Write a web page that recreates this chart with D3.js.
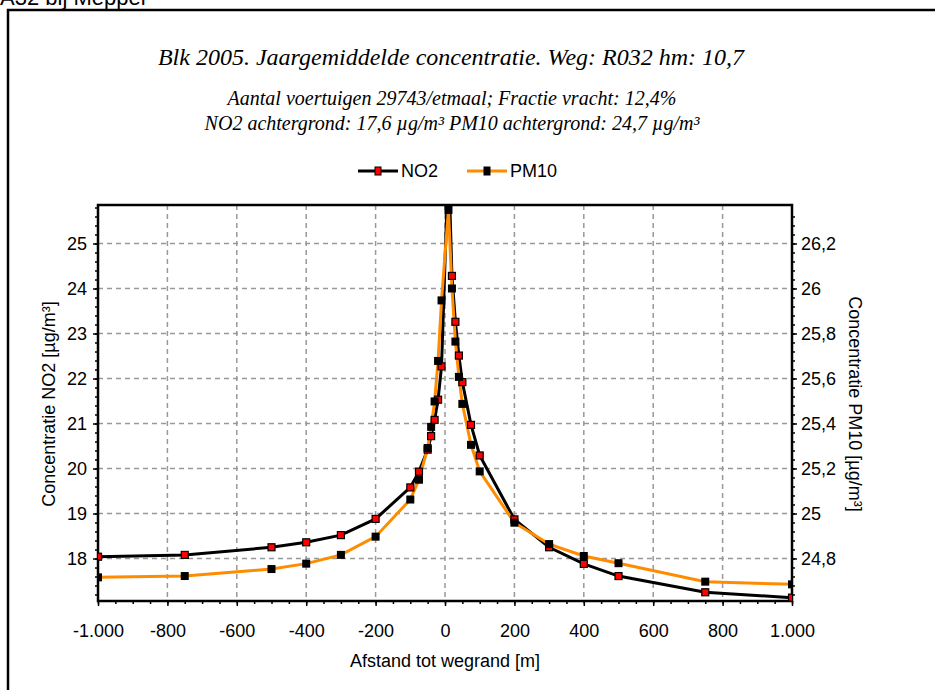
<!DOCTYPE html>
<html>
<head>
<meta charset="utf-8">
<script src="https://cdn.jsdelivr.net/npm/d3@7"></script>
<style>
  body { margin: 0; background: #fff; }
  svg { display: block; }
  .tick text { font-family: "Liberation Sans", Arial, sans-serif; font-size: 18px; fill: #000; }
</style>
</head>
<body>
<svg id="chart"></svg>
<script>
// afstand tot wegrand [m]
const distances = [-1000, -750, -500, -400, -300, -200, -100, -75, -50, -40, -30, -20, -10,
                   10, 20, 30, 40, 50, 75, 100, 200, 300, 400, 500, 750, 1000];
// concentratie NO2 [µg/m³]
const no2 = [18.04, 18.08, 18.25, 18.36, 18.52, 18.88, 19.58, 19.93, 20.42, 20.72, 21.08, 21.53, 22.27,
             26.9, 24.28, 23.26, 22.51, 21.92, 20.97, 20.29, 18.87, 18.25, 17.88, 17.61, 17.25, 17.13];
// concentratie PM10 [µg/m³]
const pm10 = [24.716, 24.722, 24.753, 24.777, 24.816, 24.897, 25.062, 25.150, 25.291, 25.385, 25.498, 25.678, 25.947,
              26.349, 26.0, 25.764, 25.607, 25.487, 25.305, 25.187, 24.959, 24.864, 24.811, 24.779, 24.697, 24.685];

const xTicks = [-1000, -800, -600, -400, -200, 0, 200, 400, 600, 800, 1000];
const no2Ticks = [18, 19, 20, 21, 22, 23, 24, 25];
const pm10Ticks = [24.8, 25, 25.2, 25.4, 25.6, 25.8, 26, 26.2];

const seriesNames = ["NO2", "PM10"];
const titleText = "Blk 2005. Jaargemiddelde concentratie. Weg: R032 hm: 10,7";
const subText = ["Aantal voertuigen 29743/etmaal; Fractie vracht: 12,4%",
                 "NO2 achtergrond: 17,6 µg/m³ PM10 achtergrond: 24,7 µg/m³"];

const width = 935, height = 690;
const mLeft = 98, mRight = 792, mTop = 205, mBottom = 601;

const nl = d3.formatLocale({decimal: ",", thousands: ".", grouping: [3], currency: ["€", ""], minus: "-"});

const svg = d3.select("#chart")
    .attr("width", width)
    .attr("height", height);

// page heading, cut off at the top as in the original screenshot
svg.append("text")
    .attr("x", 0)
    .attr("y", 5)
    .style("font-family", "Liberation Sans, Arial, sans-serif")
    .style("font-size", "22px")
    .text("A32 bij Meppel");

// outer frame
svg.append("rect")
    .attr("x", 8).attr("y", 10)
    .attr("width", 940).attr("height", 700)
    .attr("fill", "none")
    .attr("stroke", "#000")
    .attr("stroke-width", 2.5);

const x = d3.scaleLinear().domain([-1000, 1000]).range([mLeft, mRight]);
const yNO2 = d3.scaleLinear().domain([17.056, 25.856]).range([mBottom, mTop]);
const yPM = d3.scaleLinear().domain([24.611, 26.371]).range([mBottom, mTop]);

// titles
const serif = "Liberation Serif, Times New Roman, serif";
svg.append("text")
    .attr("x", 451).attr("y", 65)
    .attr("text-anchor", "middle")
    .style("font-family", serif)
    .style("font-style", "italic")
    .style("font-size", "24px")
    .text(titleText);

svg.selectAll(".sub")
    .data(subText)
    .join("text")
    .attr("class", "sub")
    .attr("x", 452)
    .attr("y", (d, i) => 105 + i * 25)
    .attr("text-anchor", "middle")
    .style("font-family", serif)
    .style("font-style", "italic")
    .style("font-size", "20px")
    .text(d => d);

// grid
const grid = svg.append("g")
    .attr("stroke", "#999")
    .attr("stroke-width", 1.5)
    .attr("stroke-dasharray", "5,4");

grid.selectAll(".vg")
    .data(xTicks.slice(1, -1))
    .join("line")
    .attr("x1", d => x(d)).attr("x2", d => x(d))
    .attr("y1", mTop).attr("y2", mBottom);

grid.selectAll(".hg")
    .data(no2Ticks)
    .join("line")
    .attr("x1", mLeft).attr("x2", mRight)
    .attr("y1", d => yNO2(d)).attr("y2", d => yNO2(d));

// axes
const xAxis = d3.axisBottom(x).tickValues(xTicks).tickSize(5).tickPadding(18).tickFormat(nl.format(",d"));
const xMinor = d3.axisBottom(x).tickValues(d3.range(-1000, 1001, 50)).tickSize(3).tickFormat("");
const yAxis = d3.axisLeft(yNO2).tickValues(no2Ticks).tickSize(5).tickPadding(6).tickFormat(nl.format("d"));
const yMinor = d3.axisLeft(yNO2).tickValues(d3.range(17.2, 25.81, 0.2)).tickSize(3).tickFormat("");
const y2Axis = d3.axisRight(yPM).tickValues(pm10Ticks).tickSize(5).tickPadding(4).tickFormat(d => nl.format("")(+d.toFixed(1)));
const y2Minor = d3.axisRight(yPM).tickValues(d3.range(24.64, 26.36, 0.04)).tickSize(3).tickFormat("");

function styleAxis(g) {
    g.select(".domain").remove();
    g.selectAll(".tick line").attr("stroke", "#000").attr("stroke-width", 1.5);
}

svg.append("g").attr("transform", `translate(0,${mBottom})`).call(xMinor).call(styleAxis);
svg.append("g").attr("transform", `translate(0,${mBottom})`).call(xAxis).call(styleAxis);
svg.append("g").attr("transform", `translate(${mLeft},0)`).call(yMinor).call(styleAxis);
svg.append("g").attr("transform", `translate(${mLeft},0)`).call(yAxis).call(styleAxis);
svg.append("g").attr("transform", `translate(${mRight},0)`).call(y2Minor).call(styleAxis);
svg.append("g").attr("transform", `translate(${mRight},0)`).call(y2Axis).call(styleAxis);

// plot frame
svg.append("rect")
    .attr("x", mLeft).attr("y", mTop)
    .attr("width", mRight - mLeft).attr("height", mBottom - mTop)
    .attr("fill", "none")
    .attr("stroke", "#000")
    .attr("stroke-width", 2.5);

// axis labels
const labelFont = "Liberation Sans, Arial, sans-serif";
svg.append("text")
    .attr("transform", "translate(55,404) rotate(-90)")
    .attr("text-anchor", "middle")
    .style("font-family", labelFont).style("font-size", "18px")
    .text("Concentratie NO2 [µg/m³]");

svg.append("text")
    .attr("transform", "translate(849,404) rotate(90)")
    .attr("text-anchor", "middle")
    .style("font-family", labelFont).style("font-size", "18px")
    .text("Concentratie PM10 [µg/m³]");

svg.append("text")
    .attr("x", 445).attr("y", 667)
    .attr("text-anchor", "middle")
    .style("font-family", labelFont).style("font-size", "18px")
    .text("Afstand tot wegrand [m]");

// series
svg.append("clipPath").attr("id", "plotclip")
    .append("rect")
    .attr("x", mLeft).attr("y", mTop)
    .attr("width", mRight - mLeft).attr("height", mBottom - mTop);

const plot = svg.append("g").attr("clip-path", "url(#plotclip)");

const no2Pts = distances.map((d, i) => [d, no2[i]]);
const pmPts = distances.map((d, i) => [d, pm10[i]]);

plot.append("path")
    .datum(no2Pts)
    .attr("fill", "none")
    .attr("stroke", "#000")
    .attr("stroke-width", 3)
    .attr("d", d3.line().x(d => x(d[0])).y(d => yNO2(d[1])));

plot.append("path")
    .datum(pmPts)
    .attr("fill", "none")
    .attr("stroke", "#ff8c00")
    .attr("stroke-width", 3)
    .attr("d", d3.line().x(d => x(d[0])).y(d => yPM(d[1])));

plot.selectAll(".m-no2")
    .data(no2Pts)
    .join("rect")
    .attr("x", d => x(d[0]) - 3.5)
    .attr("y", d => yNO2(d[1]) - 3.5)
    .attr("width", 7).attr("height", 7)
    .attr("fill", "#ff0000")
    .attr("stroke", "#000")
    .attr("stroke-width", 1.2);

plot.selectAll(".m-pm")
    .data(pmPts)
    .join("rect")
    .attr("x", d => x(d[0]) - 4)
    .attr("y", d => yPM(d[1]) - 4)
    .attr("width", 8).attr("height", 8)
    .attr("fill", "#000");

// legend
const legend = svg.append("g").attr("transform", "translate(358,171)");
const legendItems = [
    {name: seriesNames[0], stroke: "#000", fill: "#ff0000", x: 0},
    {name: seriesNames[1], stroke: "#ff8c00", fill: "#000", x: 109}
];
const li = legend.selectAll("g")
    .data(legendItems)
    .join("g")
    .attr("transform", d => `translate(${d.x},0)`);
li.append("line")
    .attr("x1", 0).attr("x2", 40)
    .attr("stroke", d => d.stroke)
    .attr("stroke-width", 3);
li.append("rect")
    .attr("x", 17).attr("y", -4)
    .attr("width", 6).attr("height", 8)
    .attr("fill", d => d.fill)
    .attr("stroke", "#000")
    .attr("stroke-width", 1);
li.append("text")
    .attr("x", 43).attr("y", 6)
    .style("font-family", labelFont).style("font-size", "18px")
    .text(d => d.name);
</script>
</body>
</html>
